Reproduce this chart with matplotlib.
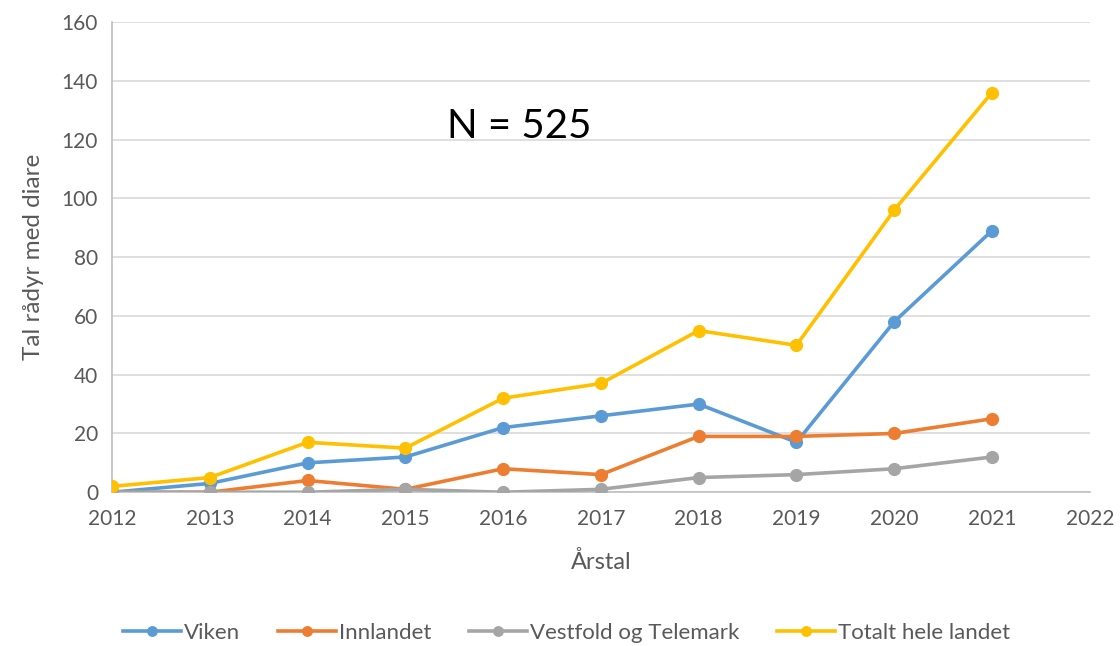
import matplotlib
matplotlib.use("Agg")
import matplotlib.pyplot as plt

years = [2012, 2013, 2014, 2015, 2016, 2017, 2018, 2019, 2020, 2021]
viken = [0, 3, 10, 12, 22, 26, 30, 17, 58, 89]
innlandet = [0, 0, 4, 1, 8, 6, 19, 19, 20, 25]
vestfold = [0, 0, 0, 1, 0, 1, 5, 6, 8, 12]
totalt = [2, 5, 17, 15, 32, 37, 55, 50, 96, 136]
series_names = ["Viken", "Innlandet", "Vestfold og Telemark", "Totalt hele landet"]
colors = ["#5B9BD5", "#ED7D31", "#A5A5A5", "#FFC000"]
xticks = list(range(2012, 2023))
yticks = list(range(0, 161, 20))

plt.rcParams['font.family'] = ['Lato', 'DejaVu Sans']

fig = plt.figure(figsize=(11.2, 6.46), dpi=100)
ax = fig.add_axes([0.1, 0.238, 0.873, 0.728])

for vals, name, c in zip([viken, innlandet, vestfold, totalt], series_names, colors):
    ax.plot(years, vals, color=c, lw=2.6, marker='o', ms=8.5, label=name,
            markeredgecolor=c, zorder=3)

ax.set_xlim(2012, 2022)
ax.set_ylim(0, 160)
ax.set_xticks(xticks)
ax.set_yticks(yticks)
ax.tick_params(axis='both', length=0, labelsize=15, colors='#595959')
ax.tick_params(axis='x', pad=12)
ax.tick_params(axis='y', pad=10)
ax.grid(axis='y', color='#D9D9D9', lw=1.2, zorder=0)
for s in ['top', 'right']:
    ax.spines[s].set_visible(False)
for s in ['left', 'bottom']:
    ax.spines[s].set_color('#BFBFBF')
    ax.spines[s].set_linewidth(1.2)

ax.set_xlabel("Årstal", fontsize=17, color='#595959', labelpad=16)
ax.set_ylabel("Tal rådyr med diare", fontsize=17.5, color='#595959', labelpad=13)

ax.text(2016.17, 124.3, "N = 525", fontsize=29, color='black', va='center', ha='center')

leg = fig.legend(loc='center', bbox_to_anchor=(0.506, 0.02), ncol=4, frameon=False,
                 fontsize=16, handlelength=2.6, columnspacing=1.7, handletextpad=0.15,
                 markerscale=0.8)
for t in leg.get_texts():
    t.set_color('#595959')

fig.savefig("out.png", dpi=100)
